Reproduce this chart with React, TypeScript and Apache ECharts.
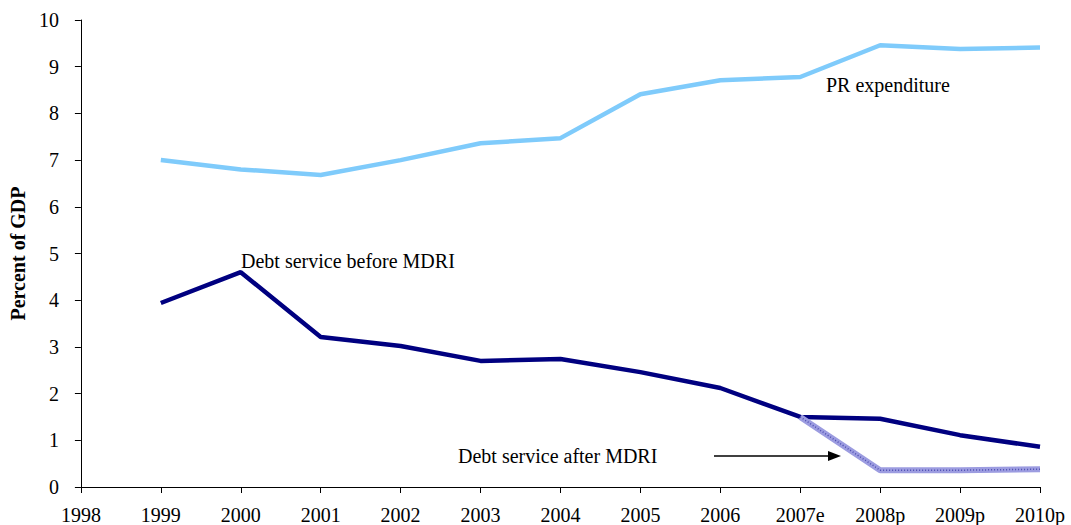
import React, { useEffect, useRef } from "react";
import * as echarts from "echarts";

const years = ["1998", "1999", "2000", "2001", "2002", "2003", "2004", "2005", "2006", "2007e", "2008p", "2009p", "2010p"];
const prExpenditure = [null, 7.0, 6.8, 6.68, 7.0, 7.36, 7.47, 8.41, 8.71, 8.78, 9.46, 9.38, 9.41];
const debtBefore = [null, 3.94, 4.6, 3.21, 3.02, 2.7, 2.74, 2.46, 2.12, 1.5, 1.46, 1.11, 0.86];
const debtAfter = [null, null, null, null, null, null, null, null, null, 1.5, 0.36, 0.36, 0.38];
const yTicks = [0, 1, 2, 3, 4, 5, 6, 7, 8, 9, 10];

const FONT = "Liberation Serif";
const FS = 20;

export default function App() {
  const ref = useRef<HTMLDivElement>(null);
  useEffect(() => {
    document.body.style.margin = "0";
    const chart = echarts.init(ref.current!, null, { renderer: "svg" });
    chart.setOption({
      animation: false,
      backgroundColor: "#ffffff",
      grid: { left: 80, right: 31, top: 20, bottom: 38, containLabel: false },
      xAxis: {
        type: "category",
        data: years,
        boundaryGap: false,
        axisLine: { lineStyle: { color: "#000", width: 1 } },
        axisTick: { alignWithLabel: true, length: 6, lineStyle: { color: "#000" } },
        axisLabel: { color: "#000", fontFamily: FONT, fontSize: FS, margin: 18 },
        splitLine: { show: false },
      },
      yAxis: {
        type: "value",
        min: yTicks[0],
        max: yTicks[yTicks.length - 1],
        interval: 1,
        name: "Percent of GDP",
        nameLocation: "middle",
        nameGap: 52,
        nameTextStyle: { color: "#000", fontFamily: FONT, fontSize: FS, fontWeight: "bold" },
        axisLine: { show: true, lineStyle: { color: "#000", width: 1 } },
        axisTick: { show: true, length: 6, lineStyle: { color: "#000" } },
        axisLabel: { color: "#000", fontFamily: FONT, fontSize: FS, margin: 22 },
        splitLine: { show: false },
      },
      series: [
        {
          name: "PR expenditure",
          type: "line",
          data: prExpenditure,
          symbol: "none",
          lineStyle: { color: "#7fcbfb", width: 4.5 },
        },
        {
          name: "Debt service after MDRI",
          type: "line",
          data: debtAfter,
          symbol: "none",
          lineStyle: { color: "#9c9ce0", width: 6 },
          z: 2,
        },
        {
          name: "Debt service after MDRI pattern",
          type: "line",
          data: debtAfter,
          symbol: "none",
          lineStyle: { color: "#4c4cb0", width: 1.5, type: [1, 2] },
          z: 3,
        },
        {
          name: "Debt service before MDRI",
          type: "line",
          data: debtBefore,
          symbol: "none",
          lineStyle: { color: "#000080", width: 4.5 },
          z: 1,
        },
      ],
      graphic: [
        {
          type: "text",
          left: 826,
          top: 75,
          style: { text: "PR expenditure", fill: "#000", font: `${FS}px ${FONT}` },
        },
        {
          type: "text",
          left: 241,
          top: 251,
          style: { text: "Debt service before MDRI", fill: "#000", font: `${FS}px ${FONT}` },
        },
        {
          type: "text",
          left: 458,
          top: 446,
          style: { text: "Debt service after MDRI", fill: "#000", font: `${FS}px ${FONT}` },
        },
        {
          type: "line",
          shape: { x1: 714, y1: 456, x2: 830, y2: 456 },
          style: { stroke: "#000", lineWidth: 1.5 },
        },
        {
          type: "polygon",
          shape: { points: [[841, 456], [828, 451], [828, 461]] },
          style: { fill: "#000" },
        },
      ],
    });
    return () => chart.dispose();
  }, []);
  return <div ref={ref} style={{ width: 1071, height: 525 }} />;
}
